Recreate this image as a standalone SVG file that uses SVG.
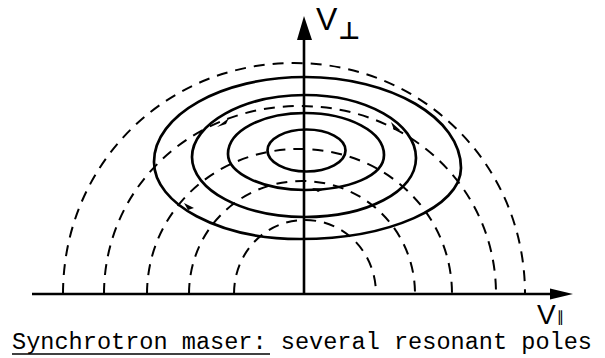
<svg xmlns="http://www.w3.org/2000/svg" width="605" height="358" viewBox="0 0 605 358">
<style>
.sol{fill:none;stroke:#000;stroke-width:2.7;stroke-linejoin:round}
.dash{fill:none;stroke:#000;stroke-width:2;stroke-dasharray:11 8}
.ax{fill:none;stroke:#000;stroke-width:2.6}
.lbl{font-family:"Liberation Sans","DejaVu Sans",sans-serif;fill:#000}
.cap{font-family:"Liberation Mono","DejaVu Sans Mono",monospace;font-size:23.5px;fill:#000}
</style>
<rect width="605" height="358" fill="#fff"/>
<g id="resonance-curves">
<path class="dash" d="M63,294 C63,165 165,63 294,63 C423,63 525,165 525,294"/>
<path class="dash" d="M104,294 C104,189 190,106 300,106 C410,106 496,189 496,294"/>
<path class="dash" d="M147,294 C147,213 214,149 299.5,149 C385,149 452,213 452,294"/>
<path class="dash" d="M189,294 C189,231 239,181 302,181 C365,181 415,231 415,294"/>
<path class="dash" d="M234,294 C234,253 265,220 305,220 C345,220 376,253 376,294"/>
</g>
<g id="diffusion-curves">
<path class="sol" d="M305,77 C391,77 461,118 461,168 C461,207 389,239 300,239 C219,239 154,204 154,162 C154,115 222,77 305,77 Z"/>
<path class="sol" d="M305,95 C366,95 416,123 416,158 C416,192 366,217 305,217 C243,217 192,190 192,157 C192,124 243,95 305,95 Z"/>
<path class="sol" d="M305,113 C349,113 384,132 384,155 C384,176 349,190 305,190 C262,190 228,173 228,154 C228,131 262,113 305,113 Z"/>
<ellipse class="sol" cx="306.5" cy="150.5" rx="39" ry="21"/>
<g fill="#000">
<path d="M217,127 L229,118 L226,124 Z"/>
<path d="M391,122 L400,130 L394,130 Z"/>
<path d="M184,203 L194,208 L188,210 Z"/>
<path d="M312,188 L324,189 L318,192 Z"/>
</g>
</g>
<g id="axes">
<line class="ax" x1="304" y1="294" x2="304" y2="36"/>
<path d="M304,16 L297,40 L312,40 Z" fill="#000"/>
<line class="ax" x1="32" y1="294" x2="552" y2="294"/>
<path d="M573,294 L550,288.5 L550,299.5 Z" fill="#000"/>
</g>
<g id="labels">
<text class="lbl" x="316" y="30" font-size="32">V<tspan dx="1" dy="9" font-size="24" font-weight="bold">⊥</tspan></text>
<text class="lbl" x="537" y="324" font-size="28">V<tspan dx="1" dy="-2" font-size="15" font-style="italic">∥</tspan></text>
</g>
<g id="caption">
<text class="cap" x="12" y="349" textLength="580" lengthAdjust="spacingAndGlyphs">Synchrotron maser: several resonant poles</text>
<line x1="12" y1="354" x2="270" y2="354" stroke="#000" stroke-width="1.5"/>
</g>
</svg>
